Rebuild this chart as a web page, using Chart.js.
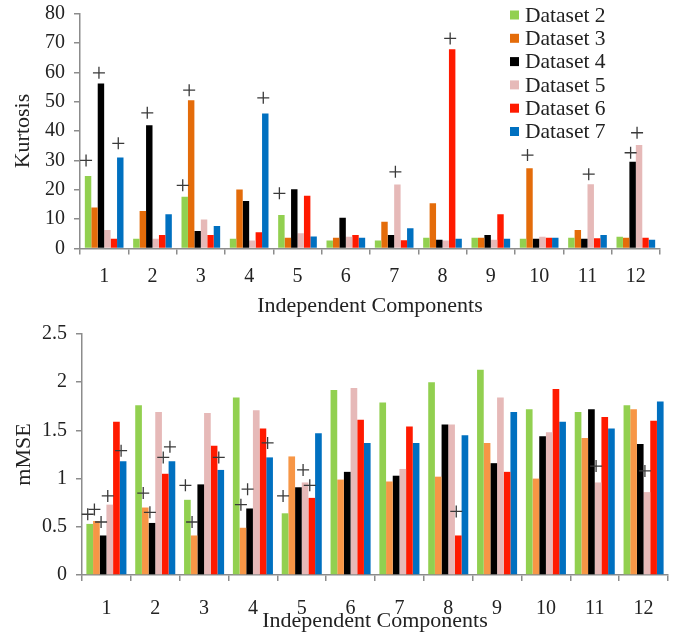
<!DOCTYPE html>
<html>
<head>
<meta charset="utf-8">
<script src="https://cdn.jsdelivr.net/npm/chart.js@4.4.1/dist/chart.umd.min.js"></script>
<style>
  body { margin: 0; background: #fff; }
  canvas { display: block; }
</style>
</head>
<body>
<canvas id="kurtChart" width="679" height="320"></canvas>
<canvas id="mmseChart" width="679" height="317"></canvas>
<script>
const components = ['1', '2', '3', '4', '5', '6', '7', '8', '9', '10', '11', '12'];
const seriesNames = ['Dataset 2', 'Dataset 3', 'Dataset 4', 'Dataset 5', 'Dataset 6', 'Dataset 7'];

// Kurtosis (top panel)
const kurtDs2 = [24.7, 3.3, 17.6, 3.3, 11.4, 2.7, 2.7, 3.7, 3.7, 3.3, 3.7, 4.0];
const kurtDs3 = [14.0, 12.8, 50.5, 20.1, 3.7, 3.7, 9.1, 15.4, 3.7, 27.3, 6.3, 3.7];
const kurtDs4 = [56.2, 42.0, 6.0, 16.2, 20.2, 10.5, 4.6, 3.0, 4.6, 3.3, 3.3, 29.5];
const kurtDs5 = [6.3, 3.3, 9.9, 2.7, 5.2, 4.0, 21.8, 2.7, 3.0, 4.0, 21.9, 35.2];
const kurtDs6 = [3.3, 4.6, 4.6, 5.5, 18.0, 4.6, 2.8, 67.8, 11.7, 3.7, 3.5, 3.7];
const kurtDs7 = [31.0, 11.7, 7.7, 46.0, 4.1, 3.7, 6.9, 3.3, 3.3, 3.7, 4.6, 3.0];

// "+" marks in the top panel
const kurtPlus2 = [30, null, 21.5, null, 18.8, null, null, null, null, null, null, null];
const kurtPlus3 = [null, null, 53.9, null, null, null, null, null, null, 31.8, null, null];
const kurtPlus4 = [59.8, 46.2, null, null, null, null, null, null, null, null, null, 32.6];
const kurtPlus5 = [null, null, null, null, null, null, 26.1, null, null, null, 25.3, 39.4];
const kurtPlus6 = [null, null, null, null, null, null, null, 71.5, null, null, null, null];
const kurtPlus7 = [35.8, null, null, 51.3, null, null, null, null, null, null, null, null];

// mMSE (bottom panel)
const mmseDs2 = [0.53, 1.76, 0.78, 1.84, 0.64, 1.92, 1.79, 2.00, 2.13, 1.72, 1.69, 1.76];
const mmseDs3 = [0.56, 0.70, 0.41, 0.49, 1.23, 0.99, 0.97, 1.02, 1.37, 1.00, 1.42, 1.72];
const mmseDs4 = [0.41, 0.54, 0.94, 0.69, 0.91, 1.07, 1.03, 1.56, 1.16, 1.44, 1.72, 1.36];
const mmseDs5 = [0.73, 1.69, 1.68, 1.71, 0.96, 1.94, 1.10, 1.56, 1.84, 1.48, 0.96, 0.86];
const mmseDs6 = [1.59, 1.05, 1.34, 1.52, 0.80, 1.61, 1.54, 0.41, 1.07, 1.93, 1.64, 1.60];
const mmseDs7 = [1.18, 1.18, 1.09, 1.22, 1.47, 1.37, 1.37, 1.45, 1.69, 1.59, 1.52, 1.80];

const mmsePlus2 = [0.63, null, 0.93, null, 0.82, null, null, null, null, null, null, null];
const mmsePlus3 = [0.68, 0.85, 0.55, 0.73, null, null, null, null, null, null, null, null];
const mmsePlus4 = [0.55, 0.65, null, 0.89, null, null, null, null, null, null, null, null];
const mmsePlus5 = [0.82, null, null, null, 1.09, null, null, null, null, null, 1.13, 1.08];
const mmsePlus6 = [null, 1.22, null, null, 0.93, null, null, 0.66, null, null, null, null];
const mmsePlus7 = [1.29, 1.33, 1.22, 1.37, null, null, null, null, null, null, null, null];

const FONT = '"Liberation Serif", "DejaVu Serif", serif';
const kurtColors = ['#92d050', '#e46c0a', '#000000', '#e6b9b8', '#ff1a00', '#0070c0'];
const mmseColors = ['#92d050', '#f79646', '#000000', '#e6b9b8', '#ff1a00', '#0070c0'];

// draws the "+" signs over the bars
const plusMarks = {
    id: 'plusMarks',
    afterDatasetsDraw(chart, args, opts) {
        const ctx = chart.ctx;
        const yScale = chart.scales.y;
        ctx.save();
        ctx.strokeStyle = '#3a3a3a';
        ctx.lineWidth = 1.3;
        opts.marks.forEach((arr, i) => {
            const meta = chart.getDatasetMeta(i);
            arr.forEach((v, j) => {
                if (v == null) return;
                const px = meta.data[j].x - 2;
                const py = yScale.getPixelForValue(v);
                ctx.beginPath();
                ctx.moveTo(px - 6, py); ctx.lineTo(px + 6, py);
                ctx.moveTo(px, py - 6); ctx.lineTo(px, py + 6);
                ctx.stroke();
            });
        });
        ctx.restore();
    }
};

// legend drawn inside the plot area (top panel only)
const boxLegend = {
    id: 'boxLegend',
    afterDraw(chart, args, opts) {
        if (!opts.show) return;
        const ctx = chart.ctx;
        ctx.save();
        ctx.font = '21.5px ' + FONT;
        ctx.textBaseline = 'middle';
        chart.data.datasets.forEach((ds, i) => {
            const y = opts.y + i * opts.gap;
            ctx.fillStyle = ds.backgroundColor;
            ctx.fillRect(opts.x, y - 4.5, 9, 9);
            ctx.fillStyle = '#222';
            ctx.fillText(ds.label, opts.x + 15, y + 1);
        });
        ctx.restore();
    }
};

function makeChart(id, seriesValues, seriesMarks, colors, yMax, yStep, yTitle, lay) {
    const datasets = seriesValues.map((vals, i) => ({
        label: seriesNames[i],
        data: vals,
        backgroundColor: colors[i],
        borderWidth: 0,
        categoryPercentage: lay.catPct,
        barPercentage: 1.0
    }));
    return new Chart(document.getElementById(id), {
        type: 'bar',
        data: { labels: components, datasets: datasets },
        plugins: [plusMarks, boxLegend],
        options: {
            responsive: false,
            animation: false,
            layout: { padding: { left: 0, right: lay.right, top: lay.top, bottom: 0 } },
            plugins: {
                legend: { display: false },
                tooltip: { enabled: false },
                plusMarks: { marks: seriesMarks },
                boxLegend: { show: lay.legend, x: 510, y: 15, gap: 23.3 }
            },
            scales: {
                x: {
                    afterFit: s => { s.height = lay.xHeight; s.paddingLeft = 0; s.paddingRight = 0; },
                    grid: { offset: true, drawOnChartArea: false, tickLength: 6, color: '#8c8c8c', lineWidth: 1.5 },
                    border: { color: '#8c8c8c', width: 1.5 },
                    ticks: { color: '#222', font: { family: FONT, size: 20 }, padding: lay.xTickPad, maxRotation: 0 },
                    title: {
                        display: true, text: 'Independent Components', color: '#222',
                        font: { family: FONT, size: 22 }, padding: { top: 0, bottom: lay.xTitlePad }
                    }
                },
                y: {
                    min: 0, max: yMax,
                    afterFit: s => { s.width = lay.yWidth; s.paddingTop = 0; s.paddingBottom = 0; },
                    grid: { drawOnChartArea: false, tickLength: 6, color: '#8c8c8c', lineWidth: 1.5 },
                    border: { color: '#8c8c8c', width: 1.5 },
                    ticks: {
                        stepSize: yStep, color: '#222', font: { family: FONT, size: 20 }, padding: 9,
                        callback: v => String(+v.toFixed(2))
                    },
                    title: {
                        display: true, text: yTitle, color: '#222',
                        font: { family: FONT, size: 22 }, padding: { top: lay.yTitlePad, bottom: 0 }
                    }
                }
            }
        }
    });
}

makeChart('kurtChart',
    [kurtDs2, kurtDs3, kurtDs4, kurtDs5, kurtDs6, kurtDs7],
    [kurtPlus2, kurtPlus3, kurtPlus4, kurtPlus5, kurtPlus6, kurtPlus7],
    kurtColors, 80, 10, 'Kurtosis',
    { catPct: 0.8, right: 19, top: 13.5, xHeight: 71.5, xTickPad: 10, xTitlePad: 1, yWidth: 80, yTitlePad: 10, legend: true });

makeChart('mmseChart',
    [mmseDs2, mmseDs3, mmseDs4, mmseDs5, mmseDs6, mmseDs7],
    [mmsePlus2, mmsePlus3, mmsePlus4, mmsePlus5, mmsePlus6, mmsePlus7],
    mmseColors, 2.5, 0.5, 'mMSE',
    { catPct: 0.82, right: 11, top: 14, xHeight: 62, xTickPad: 16, xTitlePad: 3, yWidth: 82, yTitlePad: 11, legend: false });
</script>
</body>
</html>
